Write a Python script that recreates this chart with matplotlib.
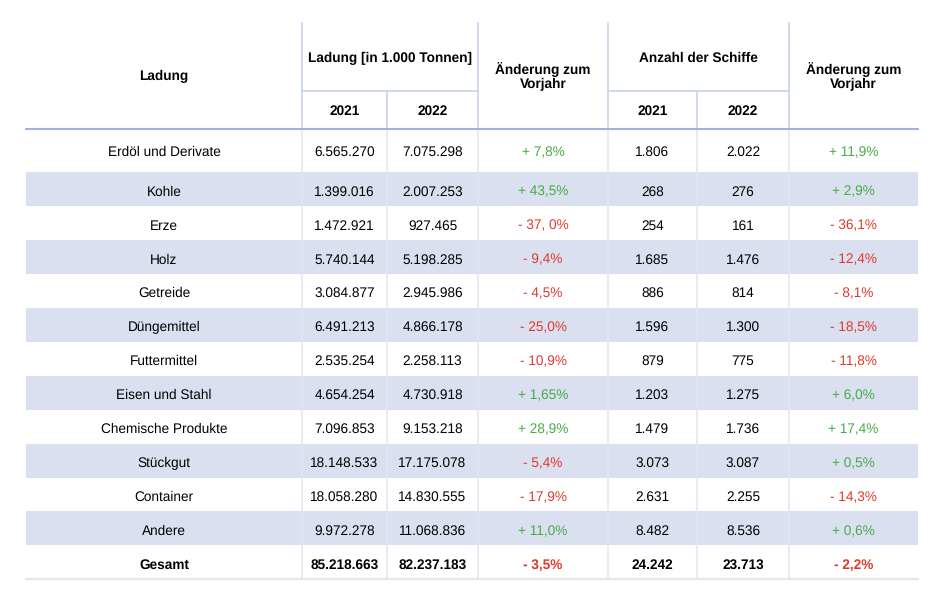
import matplotlib.pyplot as plt

# table data
ladung = ['Erdöl und Derivate', 'Kohle', 'Erze', 'Holz', 'Getreide', 'Düngemittel',
          'Futtermittel', 'Eisen und Stahl', 'Chemische Produkte', 'Stückgut',
          'Container', 'Andere', 'Gesamt']
tonnen_2021 = ['6.565.270', '1.399.016', '1.472.921', '5.740.144', '3.084.877', '6.491.213',
               '2.535.254', '4.654.254', '7.096.853', '18.148.533', '18.058.280', '9.972.278',
               '85.218.663']
tonnen_2022 = ['7.075.298', '2.007.253', '927.465', '5.198.285', '2.945.986', '4.866.178',
               '2.258.113', '4.730.918', '9.153.218', '17.175.078', '14.830.555', '11.068.836',
               '82.237.183']
tonnen_delta = ['+ 7,8%', '+ 43,5%', '- 37, 0%', '- 9,4%', '- 4,5%', '- 25,0%', '- 10,9%',
                '+ 1,65%', '+ 28,9%', '- 5,4%', '- 17,9%', '+ 11,0%', '- 3,5%']
schiffe_2021 = ['1.806', '268', '254', '1.685', '886', '1.596', '879', '1.203', '1.479',
                '3.073', '2.631', '8.482', '24.242']
schiffe_2022 = ['2.022', '276', '161', '1.476', '814', '1.300', '775', '1.275', '1.736',
                '3.087', '2.255', '8.536', '23.713']
schiffe_delta = ['+ 11,9%', '+ 2,9%', '- 36,1%', '- 12,4%', '- 8,1%', '- 18,5%', '- 11,8%',
                 '+ 6,0%', '+ 17,4%', '+ 0,5%', '- 14,3%', '+ 0,6%', '- 2,2%']

plt.rcParams['font.family'] = ['Liberation Sans', 'DejaVu Sans']
plt.rcParams['text.hinting'] = 'none'

GREEN = '#45ad45'
RED = '#e0392b'
BAND = '#dae0f0'
GRID = '#e3e6f0'
HEAD = '#c4cfe8'
HEAD_LINE = '#9fb2dc'
FS = 9.8

W, H = 952, 604
fig = plt.figure(figsize=(W / 100, H / 100), dpi=100)
ax = fig.add_axes([0, 0, 1, 1])
ax.set_xlim(0, W)
ax.set_ylim(H, 0)
ax.axis('off')

# layout (pixels)
cols = [26, 302, 387, 478, 608, 697, 789, 918]
top, mid, head_bot = 23, 91, 129
first_h = 43
row_h = 33.95

# row boundaries
bounds = [head_bot, head_bot + first_h]
for i in range(1, len(ladung)):
    bounds.append(bounds[-1] + row_h)

# striped rows
for i in range(len(ladung)):
    if i % 2 == 1:
        ax.fill_between([cols[0], cols[-1]], bounds[i], bounds[i + 1], color=BAND, lw=0, zorder=0)

# vertical lines in body
for x in cols[1:-1]:
    ax.plot([x, x], [head_bot, bounds[-1]], color=GRID, lw=1.1, zorder=1)
# bottom line
ax.plot([cols[0], cols[-1]], [bounds[-1], bounds[-1]], color=GRID, lw=1.5, zorder=1)

# header lines
for x in [302, 478, 608, 789]:
    ax.plot([x, x], [top, head_bot], color=HEAD, lw=1.1, zorder=1)
for x in [387, 697]:
    ax.plot([x, x], [mid, head_bot], color=HEAD, lw=1.1, zorder=1)
ax.plot([302, 478], [mid, mid], color=HEAD, lw=1.1, zorder=1)
ax.plot([608, 789], [mid, mid], color=HEAD, lw=1.1, zorder=1)
ax.plot([cols[0], cols[-1]], [head_bot, head_bot], color=HEAD_LINE, lw=1.5, zorder=2)

def cx(i):
    return (cols[i] + cols[i + 1]) / 2

hd = dict(ha='center', va='baseline', fontsize=FS, fontweight='bold', color='black')
ax.text(cx(0), 80.5, 'Ladung', **hd)
ax.text((cols[1] + cols[3]) / 2, 62, 'Ladung [in 1.000 Tonnen]', **hd)
ax.text(cx(1), 115, '2021', **hd)
ax.text(cx(2), 115, '2022', **hd)
ax.text((cols[4] + cols[6]) / 2, 62, 'Anzahl der Schiffe', **hd)
ax.text(cx(4), 115, '2021', **hd)
ax.text(cx(5), 115, '2022', **hd)
for j in (3, 6):
    ax.text(cx(j), 74, 'Änderung zum', **hd)
    ax.text(cx(j), 88.5, 'Vorjahr', **hd)

def delta_color(s):
    return GREEN if s.strip().startswith('+') else RED

n = len(ladung)
for i in range(n):
    y = bounds[i] + (27 if i == 0 else 23.5)
    bold = 'bold' if i == n - 1 else 'normal'
    vals = [ladung[i], tonnen_2021[i], tonnen_2022[i], tonnen_delta[i],
            schiffe_2021[i], schiffe_2022[i], schiffe_delta[i]]
    for j, v in enumerate(vals):
        c = delta_color(v) if j in (3, 6) else 'black'
        ax.text(cx(j), y, v, ha='center', va='baseline', fontsize=FS, fontweight=bold, color=c)

fig.savefig('out.png', dpi=100, facecolor='white')
